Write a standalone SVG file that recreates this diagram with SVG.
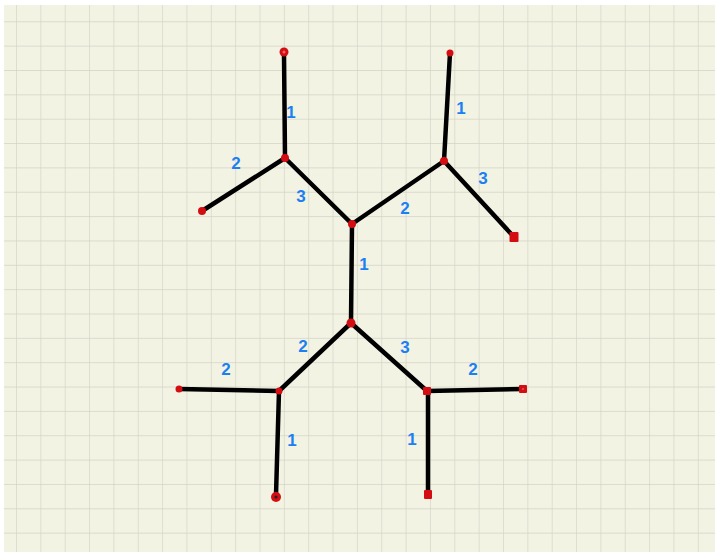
<svg xmlns="http://www.w3.org/2000/svg" width="715" height="552" viewBox="0 0 715 552">
  <style>
    .edge { stroke: #000; stroke-width: 4.5; stroke-linecap: round; fill: none; }
    .dot { fill: #d40d12; }
    .lbl { font-family: "Liberation Sans", Arial, sans-serif; font-size: 17px; font-weight: bold; fill: #1c7ff2; text-anchor: middle; dominant-baseline: central; }
  </style>
  <defs>
    <pattern id="grid" patternUnits="userSpaceOnUse" x="16" y="21.3" width="24.35" height="24.35">
      <path d="M0 0 H24.35 M0 0 V24.35" stroke="#d2d2c6" stroke-width="1.3" fill="none"/>
    </pattern>
  </defs>
  <rect x="0" y="0" width="715" height="552" fill="#ffffff"/>
  <rect x="4" y="5" width="711" height="547" fill="#f3f3e4"/>
  <rect x="4" y="5" width="711" height="547" fill="url(#grid)"/>

  <g id="connectors">
    <line class="edge" x1="284" y1="54" x2="285" y2="158"/>
    <line class="edge" x1="202" y1="211" x2="285" y2="158"/>
    <line class="edge" x1="285" y1="158" x2="352" y2="224"/>
    <line class="edge" x1="352" y1="224" x2="444" y2="161"/>
    <line class="edge" x1="450" y1="53" x2="444" y2="161"/>
    <line class="edge" x1="444" y1="161" x2="514" y2="237"/>
    <line class="edge" x1="352" y1="224" x2="351" y2="323"/>
    <line class="edge" x1="351" y1="323" x2="279" y2="391"/>
    <line class="edge" x1="179" y1="389" x2="279" y2="391"/>
    <line class="edge" x1="279" y1="391" x2="276" y2="495"/>
    <line class="edge" x1="351" y1="323" x2="427" y2="391"/>
    <line class="edge" x1="427" y1="391" x2="523" y2="389"/>
    <line class="edge" x1="428" y1="391" x2="428" y2="494"/>
  </g>

  <g id="n-top-left"><circle class="dot" cx="284" cy="52" r="4.5"/><circle cx="284" cy="52" r="1.5" fill="#e86a6a"/></g>
  <g id="n-a"><circle class="dot" cx="285" cy="158" r="4"/></g>
  <g id="n-left"><circle class="dot" cx="202" cy="211" r="4"/></g>
  <g id="n-j1"><circle class="dot" cx="352" cy="224" r="4"/></g>
  <g id="n-top-right"><circle class="dot" cx="450" cy="53" r="3.5"/></g>
  <g id="n-b"><circle class="dot" cx="444" cy="161" r="4"/></g>
  <g id="n-right"><rect class="dot" x="509.5" y="232" width="9" height="10" rx="1"/></g>
  <g id="n-j2"><circle class="dot" cx="351" cy="323" r="4.5"/></g>
  <g id="n-d"><circle class="dot" cx="279" cy="391" r="3.5"/></g>
  <g id="n-bl-left"><circle class="dot" cx="179" cy="389" r="3.5"/></g>
  <g id="n-bl-bottom"><circle class="dot" cx="276" cy="497" r="5"/><circle cx="276" cy="497" r="1.6" fill="#222"/></g>
  <g id="n-e"><rect class="dot" x="423" y="387" width="8" height="8" rx="1"/></g>
  <g id="n-br-right"><rect class="dot" x="519" y="385" width="8" height="8" rx="1"/><rect x="522.5" y="388.5" width="1" height="1" fill="#f3f3e4"/></g>
  <g id="n-br-bottom"><rect class="dot" x="424" y="490" width="8" height="9" rx="1"/></g>

  <g id="labels">
    <text class="lbl" x="291" y="112">1</text>
    <text class="lbl" x="236" y="163">2</text>
    <text class="lbl" x="301" y="196">3</text>
    <text class="lbl" x="461" y="108">1</text>
    <text class="lbl" x="483" y="178">3</text>
    <text class="lbl" x="405" y="208">2</text>
    <text class="lbl" x="364" y="264">1</text>
    <text class="lbl" x="226" y="369">2</text>
    <text class="lbl" x="303" y="346">2</text>
    <text class="lbl" x="292" y="440">1</text>
    <text class="lbl" x="405" y="347">3</text>
    <text class="lbl" x="473" y="369">2</text>
    <text class="lbl" x="412" y="439">1</text>
  </g>
</svg>
